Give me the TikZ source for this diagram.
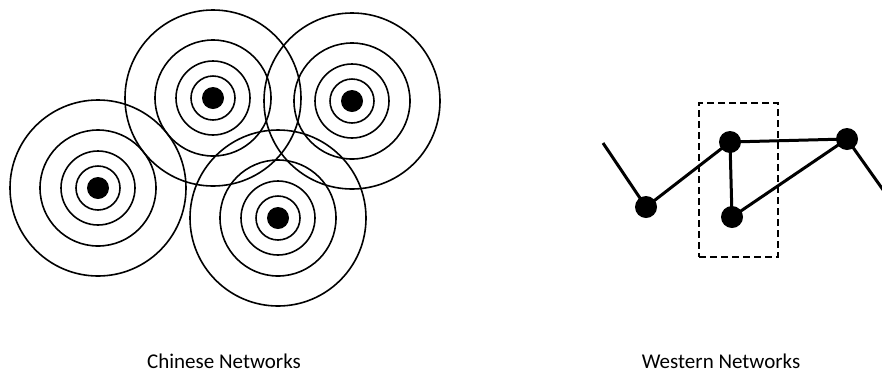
\documentclass[tikz,border=0pt]{standalone}
\usepackage{fontspec}
\setmainfont{Carlito}
\begin{document}
\begin{tikzpicture}[x=1pt,y=-1pt,
  ring/.style={draw=black,line width=1.6pt},
  dot/.style={circle,fill=black,inner sep=0pt,minimum size=22pt},
  link/.style={draw=black,line width=3pt},
  lbl/.style={font=\fontsize{21}{24}\selectfont,anchor=base,inner sep=0pt}]
\useasboundingbox (0,0) rectangle (882,373);
% Chinese networks: concentric circles
\foreach \n/\cx/\cy in {a/98/188, b/213/98, c/352/101, d/278/218}{
  \node[dot] (\n) at (\cx,\cy) {};
  \foreach \r in {22,37,58,88}{
    \draw[ring] (\n.center) circle[radius=\r];
  }
}
% Western networks
\coordinate (s) at (603,143);
\coordinate (e) at (886,194);
\node[dot] (A) at (646,207) {};
\node[dot] (B) at (730,142) {};
\node[dot] (C) at (732,217) {};
\node[dot] (D) at (847,139) {};
\draw[link] (s) -- (A.center) -- (B.center) -- (C.center) -- (D.center) -- (e);
\draw[link] (B.center) -- (D.center);
\node[draw=black,dashed,line width=2.6pt,minimum width=79pt,minimum height=154pt,inner sep=0pt,dash pattern=on 7pt off 4pt] (box) at (738.5,180) {};
\node[lbl] (lc) at (224,368) {Chinese Networks};
\node[lbl] (lw) at (721,368) {Western Networks};
\end{tikzpicture}
\end{document}
